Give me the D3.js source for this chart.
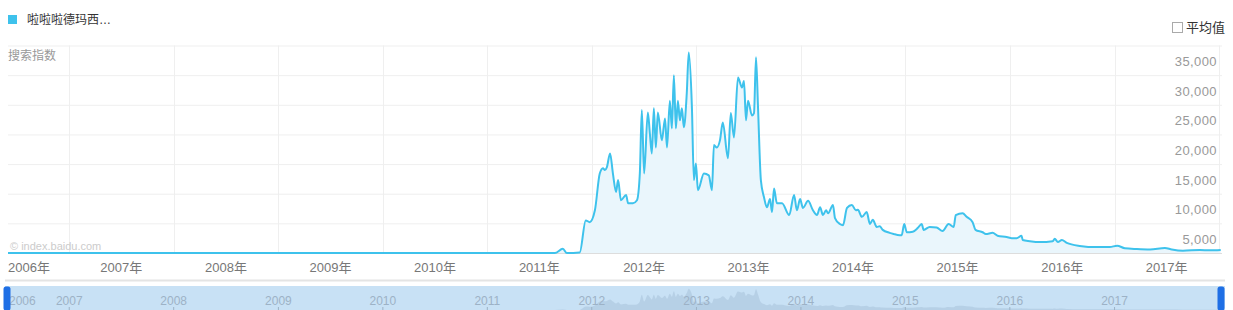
<!DOCTYPE html>
<meta charset="utf-8">
<style>
  body { margin: 0; background: #fff; }
  svg { display: block; font-family: "Liberation Sans", "Noto Sans CJK SC", Arial, sans-serif; }
</style>
<svg id="chart" width="1233" height="310"></svg>
<script src="https://d3js.org/d3.v7.min.js"></script>
<script>
// weekly search index
var dates = ["2006-06-01","2011-08-25","2011-09-22","2011-10-06","2011-11-20","2011-12-11","2011-12-25",
  "2012-01-12","2012-01-29","2012-02-09","2012-02-16","2012-02-23","2012-03-05","2012-03-15","2012-03-26",
  "2012-04-02","2012-04-12","2012-04-30","2012-05-07","2012-05-24","2012-06-07","2012-06-17","2012-06-24",
  "2012-07-02","2012-07-15","2012-07-22","2012-07-29","2012-08-05","2012-08-12","2012-08-19","2012-09-02",
  "2012-09-13","2012-09-20","2012-09-30","2012-10-07","2012-10-14","2012-10-21","2012-10-28","2012-11-04",
  "2012-11-11","2012-11-18","2012-11-28","2012-12-05","2012-12-16","2012-12-23","2012-12-30","2013-01-06",
  "2013-01-27","2013-02-13","2013-02-24","2013-03-03","2013-03-13","2013-03-24","2013-04-03","2013-04-21",
  "2013-05-01","2013-05-12","2013-05-26","2013-06-09","2013-06-16","2013-06-23","2013-06-30","2013-07-14",
  "2013-07-21","2013-07-28","2013-08-04","2013-08-14","2013-08-25","2013-09-04","2013-09-15","2013-09-22",
  "2013-09-29","2013-10-09","2013-10-27","2013-11-21","2013-12-08","2013-12-18","2013-12-29","2014-01-08",
  "2014-01-26","2014-02-12","2014-02-26","2014-03-09","2014-03-19","2014-03-30","2014-04-06","2014-04-23",
  "2014-04-30","2014-05-17","2014-05-28","2014-06-11","2014-06-28","2014-07-12","2014-07-19","2014-08-02",
  "2014-08-19","2014-08-30","2014-09-09","2014-09-23","2014-10-03","2014-10-14","2014-11-07","2014-11-21",
  "2014-12-12","2014-12-19","2014-12-28","2015-01-06","2015-01-27","2015-02-13","2015-02-27","2015-03-06",
  "2015-03-27","2015-04-20","2015-05-11","2015-06-01","2015-06-19","2015-06-26","2015-07-20","2015-08-03",
  "2015-08-24","2015-09-03","2015-09-28","2015-10-09","2015-11-02","2015-11-19","2015-12-21","2016-01-08",
  "2016-01-25","2016-02-11","2016-02-15","2016-03-11","2016-04-15","2016-05-30","2016-06-06","2016-06-17",
  "2016-07-01","2016-07-18","2016-09-01","2016-10-31","2016-12-15","2017-01-10","2017-02-06","2017-03-20",
  "2017-05-05","2017-06-26","2017-07-20","2017-08-28","2017-10-26","2017-11-30","2018-01-07"];
var values = [0,0,700,0,100,5500,5200,
  7200,13400,14300,14000,14500,16800,13400,10300,
  12300,8900,9800,8400,8400,8900,13400,24100,
  13400,23700,20200,16800,24400,17800,23700,19000,
  22700,17800,25700,21000,30000,21000,25700,22400,
  24400,21200,26900,33800,24600,12300,15100,10600,
  13400,13100,10600,18200,17800,19000,22000,16000,
  23600,19500,29600,27900,29000,22400,25700,23200,
  23600,33000,24600,12300,9400,7700,9100,6900,
  10900,8400,8400,6400,9800,7200,9100,7600,
  8800,7200,6400,7700,6400,7200,6700,8100,
  5900,4900,4700,7600,8100,7200,7300,6100,
  6900,4900,5600,4400,4500,3900,3400,3200,
  3000,3000,4900,3500,3600,4200,4900,3900,
  4400,4300,3700,4900,4400,6400,6700,6100,
  5200,3900,3500,3200,3400,2900,2700,2500,
  2500,2900,2200,2000,1850,2000,2400,1850,
  2200,1700,1200,1000,1000,1230,800,670,
  600,850,600,400,500,450,500];

var yTicks = [5000, 10000, 15000, 20000, 25000, 30000, 35000];
var yearStarts = ["2007-01-01","2008-01-01","2009-01-01","2010-01-01","2011-01-01","2012-01-01",
  "2013-01-01","2014-01-01","2015-01-01","2016-01-01","2017-01-01","2018-01-01"];
var yearLabels = ["2006年","2007年","2008年","2009年","2010年","2011年","2012年","2013年","2014年","2015年","2016年","2017年"];
var sliderYears = ["2006","2007","2008","2009","2010","2011","2012","2013","2014","2015","2016","2017"];
var seriesName = "啦啦啦德玛西…";

var parse = d3.timeParse("%Y-%m-%d");
var data = dates.map((d, i) => ({ date: parse(d), value: values[i] }));

var svg = d3.select("#chart");
var plotL = 8, plotR = 1221, plotT = 45.5, plotB = 253;

var x = d3.scaleTime()
    .domain([parse("2006-06-01"), parse("2018-01-08")])
    .range([plotL, plotR]);
var y = d3.scaleLinear()
    .domain([0, 35000])
    .range([plotB, plotT]);

// grid
svg.append("g")
    .selectAll("line")
    .data(yearStarts.map(parse))
    .join("line")
    .attr("x1", d => Math.round(x(d)) + 0.5)
    .attr("x2", d => Math.round(x(d)) + 0.5)
    .attr("y1", plotT)
    .attr("y2", plotB)
    .attr("stroke", "#efefef");

svg.append("g")
    .attr("transform", `translate(${plotL},0)`)
    .call(d3.axisLeft(y).tickValues(yTicks).tickSize(-(plotR + 1 - plotL)).tickFormat(d3.format(",")))
    .call(g => g.select(".domain").remove())
    .call(g => g.selectAll(".tick line").attr("stroke", "#efefef"))
    .call(g => g.selectAll(".tick text")
        .attr("x", 1217 - plotL)
        .attr("dy", "1.55em")
        .attr("text-anchor", "end")
        .attr("fill", "#999")
        .style("font-size", "13px")
        .style("letter-spacing", "0.4px"));

svg.append("line")
    .attr("x1", plotL).attr("x2", plotR + 1)
    .attr("y1", plotB + 0.5).attr("y2", plotB + 0.5)
    .attr("stroke", "#ddd");

// area + line
svg.append("path")
    .datum(data)
    .attr("fill", "#eaf6fc")
    .attr("d", d3.area().curve(d3.curveMonotoneX).x(d => x(d.date)).y0(plotB).y1(d => y(d.value)));

svg.append("path")
    .datum(data)
    .attr("fill", "none")
    .attr("stroke", "#3ec2ec")
    .attr("stroke-width", 2)
    .attr("stroke-linejoin", "round")
    .attr("d", d3.line().curve(d3.curveMonotoneX).x(d => x(d.date)).y(d => y(d.value)));

// x labels centred on each year
svg.append("g")
    .selectAll("text")
    .data(yearLabels)
    .join("text")
    .attr("x", (d, i) => i === 0 ? plotL : x(new Date(2006 + i, 6, 2)))
    .attr("y", 267)
    .attr("dy", "0.35em")
    .attr("text-anchor", (d, i) => i === 0 ? "start" : "middle")
    .attr("fill", "#777")
    .style("font-size", "13px")
    .text(d => d);

// texts
svg.append("text").attr("x", 8).attr("y", 56).attr("dy", "0.35em")
    .attr("fill", "#999").style("font-size", "12px").text("搜索指数");
svg.append("text").attr("x", 10).attr("y", 246).attr("dy", "0.35em")
    .attr("fill", "#ccc").style("font-size", "11px").text("© index.baidu.com");

// legend
svg.append("rect").attr("x", 8).attr("y", 15).attr("width", 9).attr("height", 9).attr("fill", "#3ec2ec");
svg.append("text").attr("x", 27).attr("y", 20).attr("dy", "0.35em")
    .attr("fill", "#333").style("font-size", "12px").text(seriesName);

svg.append("rect").attr("x", 1172.5).attr("y", 22.5).attr("width", 10).attr("height", 10)
    .attr("fill", "#fff").attr("stroke", "#aaa");
svg.append("text").attr("x", 1186).attr("y", 27).attr("dy", "0.35em")
    .attr("fill", "#333").style("font-size", "13px").text("平均值");

// slider
svg.append("rect").attr("x", 5).attr("y", 279.5).attr("width", 1220).attr("height", 2).attr("fill", "#e4e4e4");
svg.append("rect").attr("x", 5).attr("y", 286).attr("width", 1220).attr("height", 24).attr("fill", "#c8e1f5");

var y2 = d3.scaleLinear().domain([0, 35000]).range([310, 288]);
svg.append("path")
    .datum(data)
    .attr("fill", "#8fa9c2")
    .attr("fill-opacity", 0.3)
    .attr("d", d3.area().curve(d3.curveMonotoneX).x(d => x(d.date)).y0(310).y1(d => y2(d.value)));

var sl = svg.append("g");
sl.selectAll("text")
    .data(sliderYears)
    .join("text")
    .attr("x", (d, i) => i === 0 ? 9 : x(new Date(2006 + i, 0, 1)))
    .attr("y", 301)
    .attr("dy", "0.35em")
    .attr("text-anchor", (d, i) => i === 0 ? "start" : "middle")
    .attr("fill", "#9db2c6")
    .style("font-size", "12px")
    .text(d => d);
sl.selectAll("line")
    .data(yearStarts.slice(0, 11).map(parse))
    .join("line")
    .attr("x1", d => x(d)).attr("x2", d => x(d))
    .attr("y1", 307).attr("y2", 310)
    .attr("stroke", "#9db2c6");

svg.append("rect").attr("x", 3.5).attr("y", 286.5).attr("width", 7).attr("height", 24).attr("rx", 2.5).attr("fill", "#1f6fe5");
svg.append("rect").attr("x", 1217.5).attr("y", 286.5).attr("width", 7).attr("height", 24).attr("rx", 2.5).attr("fill", "#1f6fe5");
</script>
